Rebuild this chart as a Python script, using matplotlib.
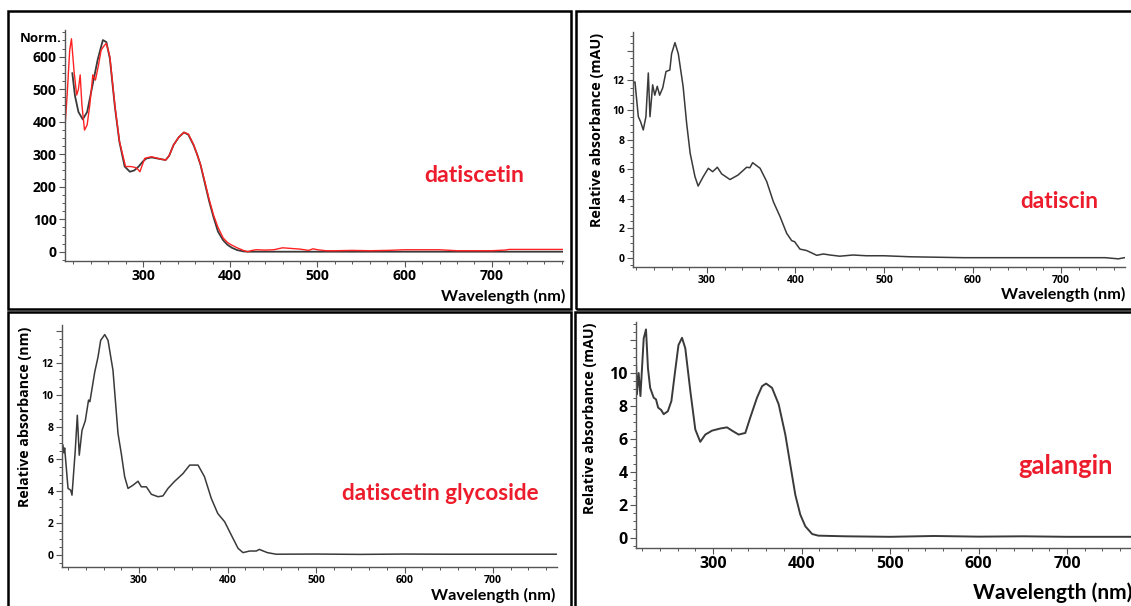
import matplotlib
matplotlib.use("Agg")
import matplotlib.pyplot as plt
from matplotlib.patches import Rectangle
from matplotlib.ticker import MultipleLocator, FixedLocator

W, H = 1131, 606

# datiscetin (sample, black) and reference (red), normalised units
datiscetin_wl = [219, 222, 226, 231, 236, 242, 248, 254, 258, 262, 268, 273, 279, 285, 290,
                 295, 300, 304, 310, 316, 322, 326, 330, 335, 341, 347, 352, 358, 362, 366,
                 371, 376, 381, 386, 392, 397, 402, 408, 415, 420, 450, 500, 600, 700, 782]
datiscetin_val = [549, 480, 430, 407, 430, 510, 590, 651, 645, 595, 441, 338, 262, 246, 250,
                  262, 278, 287, 290, 287, 284, 282, 295, 328, 352, 367, 360, 328, 300, 267,
                  210, 154, 105, 62, 35, 21, 12, 5, 1, 0, 0, 0, 0, 0, 0]
ref_wl = [210, 213, 216, 218, 221, 224, 226, 228, 230, 233, 236, 239, 242.5, 245.5, 249,
          252, 255, 258, 262, 268, 273, 280, 286, 290, 293, 296.5, 299, 302, 306, 310,
          316, 322, 326, 330, 335, 341, 347, 352, 358, 362, 366, 371, 376, 381, 386,
          392, 397, 402, 408, 415, 420, 425, 430, 440, 450, 460, 470, 480, 490, 495,
          500, 510, 520, 540, 560, 580, 600, 620, 640, 660, 680, 700, 715, 720, 740,
          760, 782]
ref_val = [360, 480, 620, 655, 554, 482, 500, 544, 451, 374, 390, 451, 544, 528, 574,
           620, 632, 641, 600, 445, 340, 262, 262, 260, 257, 246, 265, 287, 290, 292,
           288, 284, 282, 295, 328, 352, 367, 362, 330, 300, 268, 215, 160, 112, 75,
           42, 28, 20, 12, 4, 0, 4, 6, 5, 6, 12, 10, 8, 4, 9,
           6, 3, 3, 4, 3, 4, 6, 6, 6, 3, 3, 3, 5, 7, 7,
           7, 7]

# datiscin (mAU)
datiscin_wl = [216, 218.6, 222.4, 225, 228, 231, 233.7, 235.6, 238.6, 241, 243.8, 246.5,
               250, 253.7, 258, 260, 263.8, 267.6, 273, 277, 281, 286.4, 290, 295.8,
               301.5, 306.4, 311.7, 316.6, 326, 335, 344.8, 348.5, 351.6, 360, 367.5, 375,
               382.5, 390, 395.7, 399, 405, 412.7, 424, 431.5, 439, 450, 465, 480,
               500, 530, 560, 590, 650, 700, 750, 765, 768, 772]
datiscin_val = [11.8, 11.9, 9.55, 9.2, 8.65, 9.55, 12.5, 9.55, 11.7, 11.0, 11.6, 11.0,
                11.5, 12.6, 12.7, 13.8, 14.55, 13.8, 11.6, 9.1, 7.07, 5.5, 4.86, 5.5,
                6.06, 5.83, 6.13, 5.68, 5.3, 5.6, 6.13, 6.1, 6.44, 6.06, 5.16, 3.8,
                2.8, 1.67, 1.17, 1.1, 0.6, 0.5, 0.18, 0.27, 0.2, 0.12, 0.2, 0.15,
                0.15, 0.08, 0.05, 0.02, 0.02, 0.02, 0.02, -0.06, -0.02, 0.02]

# datiscetin glycoside
glyco_wl = [212, 214, 215, 216, 219.8, 222.8, 224.3, 228, 230.3, 232.5, 235.6, 239.3,
            243, 244.5, 245.4, 250, 253.7, 256.7, 261.3, 265, 270.6, 276.3, 280, 283.8,
            287.6, 293.2, 298.9, 302.6, 308.3, 314, 321.5, 327, 332.8, 340, 349.7, 357.3,
            366.7, 374, 381.7, 389, 396.8, 404.3, 411.9, 417.5, 425, 432.5, 436, 445,
            455, 500, 550, 600, 650, 700, 772]
glyco_val = [6.77, 6.9, 6.4, 6.7, 4.17, 4.06, 3.75, 6.56, 8.75, 6.25, 7.8, 8.4,
             9.7, 9.6, 9.9, 11.46, 12.4, 13.44, 13.8, 13.44, 11.56, 7.6, 6.35, 4.9,
             4.17, 4.37, 4.62, 4.27, 4.27, 3.8, 3.65, 3.7, 4.17, 4.6, 5.1, 5.63,
             5.63, 4.9, 3.54, 2.6, 2.08, 1.25, 0.42, 0.15, 0.25, 0.25, 0.35, 0.15,
             0.05, 0.06, 0.04, 0.06, 0.05, 0.05, 0.05]

# galangin (mAU)
galangin_wl = [213, 214, 216, 218, 221.7, 224.3, 226.5, 229, 233, 235.6, 238, 241.5,
               244.3, 249, 253, 256.7, 261, 265, 268.7, 274.4, 280, 285.6, 291.3, 298.9,
               308.3, 315.8, 321.5, 329, 336.5, 342, 349.7, 355.4, 360, 366.7, 374.2, 381.7,
               387.3, 393, 398.6, 404.3, 412, 419, 450, 500, 550, 600, 650, 700, 777]
galangin_val = [10.8, 8.7, 10.0, 8.6, 12.1, 12.65, 10.3, 9.1, 8.5, 8.4, 7.9, 7.75,
                7.5, 7.68, 8.3, 9.9, 11.7, 12.14, 11.5, 8.9, 6.57, 5.82, 6.26, 6.5,
                6.63, 6.7, 6.5, 6.26, 6.36, 7.28, 8.5, 9.2, 9.36, 9.1, 8.1, 6.26,
                4.44, 2.6, 1.4, 0.69, 0.22, 0.12, 0.08, 0.05, 0.1, 0.06, 0.08, 0.05, 0.05]

RED = '#ec1c2c'
TICK_FONT = 'Open Sans'
LABEL_FONT = 'Lato'

fig = plt.figure(figsize=(W / 100, H / 100), dpi=100)


def fx(px):
    return px / W


def fy(py):
    return 1 - py / H


def make_axes(left, top, right, bottom):
    ax = fig.add_axes([fx(left), fy(bottom), (right - left) / W, (bottom - top) / H])
    ax.patch.set_alpha(0)
    for side in ['top', 'right']:
        ax.spines[side].set_visible(False)
    for side in ['left', 'bottom']:
        ax.spines[side].set_color('#555555')
        ax.spines[side].set_linewidth(1.0)
    ax.tick_params(which='major', length=4, width=0.8, color='#555555', pad=2)
    ax.tick_params(which='minor', length=2.5, width=0.7, color='#555555')
    ax.xaxis.set_major_locator(FixedLocator([300, 400, 500, 600, 700]))
    ax.xaxis.set_minor_locator(MultipleLocator(20))
    return ax


def style_ticks(ax, size):
    for lab in ax.get_xticklabels() + ax.get_yticklabels():
        lab.set_fontfamily(TICK_FONT)
        lab.set_fontweight('bold')
        lab.set_fontsize(size)


def border(left, top, right, bottom):
    fig.patches.append(Rectangle((fx(left), fy(bottom)), (right - left) / W, (bottom - top) / H,
                                 transform=fig.transFigure, fill=False, edgecolor='black',
                                 linewidth=1.8, clip_on=False))


# panel borders
border(8, 11, 571, 309)
border(576, 11, 1160, 309)
border(8, 312, 571, 640)
border(575, 312, 1160, 640)

# --- datiscetin ---
ax1 = make_axes(65, 30, 563, 261)
ax1.plot(datiscetin_wl, datiscetin_val, color='#3a3a3a', lw=1.3)
ax1.plot(ref_wl, ref_val, color='#ff2222', lw=1.0)
ax1.set_xlim(210.6, 781.6)
ax1.set_ylim(-28.6, 682)
ax1.yaxis.set_major_locator(FixedLocator([0, 100, 200, 300, 400, 500, 600]))
ax1.yaxis.set_minor_locator(MultipleLocator(25))
style_ticks(ax1, 10)
fig.text(fx(62), fy(38), 'Norm.', ha='right', va='center', fontsize=9.5,
         fontweight='bold', family=TICK_FONT)
fig.text(fx(565), fy(296), 'Wavelength (nm)', ha='right', va='center', fontsize=11.7,
         fontweight='bold', family=LABEL_FONT)
fig.text(fx(424), fy(176), 'datiscetin', ha='left', va='center', fontsize=16.6,
         fontweight='bold', family=LABEL_FONT, color=RED)

# --- datiscin ---
ax2 = make_axes(633, 32, 1125, 267)
ax2.plot(datiscin_wl, datiscin_val, color='#3a3a3a', lw=1.1)
ax2.set_xlim(216.4, 772.3)
ax2.set_ylim(-0.61, 15.27)
ax2.yaxis.set_major_locator(FixedLocator([0, 2, 4, 6, 8, 10, 12, 14]))
ax2.yaxis.set_minor_locator(MultipleLocator(0.5))
ax2.set_yticklabels(['0', '2', '4', '6', '8', '10', '12', ''])
style_ticks(ax2, 7.5)
fig.text(fx(597), fy(130), 'Relative absorbance (mAU)', ha='center', va='center',
         rotation=90, fontsize=10.4, fontweight='bold', family=TICK_FONT)
fig.text(fx(1125), fy(294), 'Wavelength (nm)', ha='right', va='center', fontsize=11.7,
         fontweight='bold', family=LABEL_FONT)
fig.text(fx(1020), fy(201), 'datiscin', ha='left', va='center', fontsize=16.3,
         fontweight='bold', family=LABEL_FONT, color=RED)

# --- datiscetin glycoside ---
ax3 = make_axes(62, 325, 557, 567)
ax3.plot(glyco_wl, glyco_val, color='#3a3a3a', lw=1.1)
ax3.set_xlim(213, 772.3)
ax3.set_ylim(-0.75, 14.4)
ax3.yaxis.set_major_locator(FixedLocator([0, 2, 4, 6, 8, 10, 12, 14]))
ax3.yaxis.set_minor_locator(MultipleLocator(0.5))
ax3.set_yticklabels(['0', '2', '4', '6', '8', '10', '12', ''])
style_ticks(ax3, 7.5)
fig.text(fx(25), fy(417), 'Relative absorbance (nm)', ha='center', va='center',
         rotation=90, fontsize=10.2, fontweight='bold', family=TICK_FONT)
fig.text(fx(555), fy(595), 'Wavelength (nm)', ha='right', va='center', fontsize=11.7,
         fontweight='bold', family=LABEL_FONT)
fig.text(fx(342), fy(493), 'datiscetin glycoside', ha='left', va='center', fontsize=16.2,
         fontweight='bold', family=LABEL_FONT, color=RED)

# --- galangin ---
ax4 = make_axes(636, 322, 1135, 548)
ax4.plot(galangin_wl, galangin_val, color='#3a3a3a', lw=1.4)
ax4.set_xlim(213, 776.8)
ax4.set_ylim(-0.63, 13.1)
ax4.yaxis.set_major_locator(FixedLocator([0, 2, 4, 6, 8, 10, 12]))
ax4.yaxis.set_minor_locator(MultipleLocator(0.5))
ax4.set_yticklabels(['0', '2', '4', '6', '8', '10', ''])
style_ticks(ax4, 11.5)
fig.text(fx(590), fy(418), 'Relative absorbance (mAU)', ha='center', va='center',
         rotation=90, fontsize=10.2, fontweight='bold', family=TICK_FONT)
fig.text(fx(973), fy(593), 'Wavelength (nm)', ha='left', va='center', fontsize=15,
         fontweight='bold', family=LABEL_FONT)
fig.text(fx(1018), fy(466), 'galangin', ha='left', va='center', fontsize=18.4,
         fontweight='bold', family=LABEL_FONT, color=RED)

fig.savefig('out.png', dpi=100)
